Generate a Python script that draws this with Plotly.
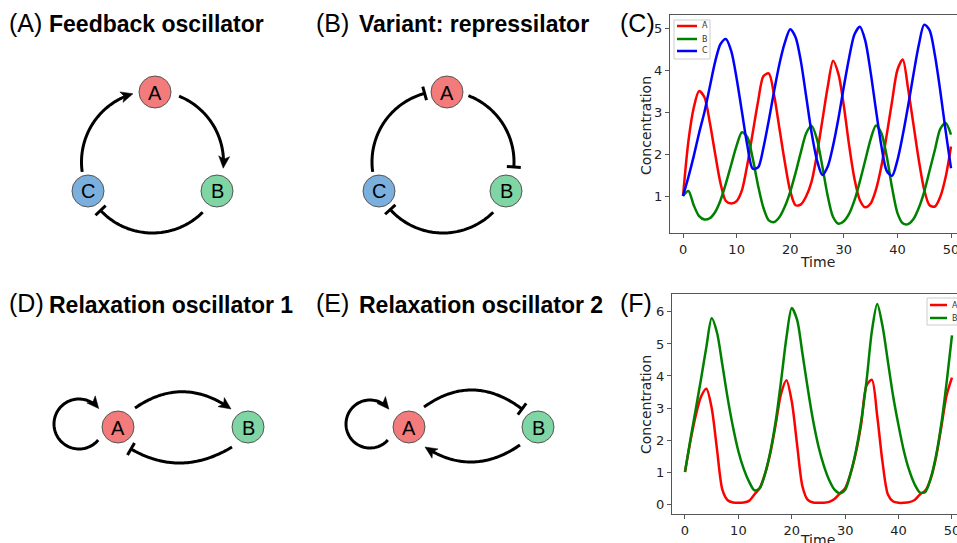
import math
import plotly.graph_objects as go

FIG_W, FIG_H = 957, 543

# ---------------- data ----------------
# Panel C: three-node feedback oscillator, concentration vs time
time_c = list(range(0, 51))
conc_c_A = [1.0, 2.3, 3.1, 3.5, 3.35, 2.75, 2.0, 1.3, 0.88, 0.82,
            0.88, 1.14, 1.75, 2.5, 3.25, 3.85, 3.92, 3.4, 2.6, 1.8,
            1.12, 0.78, 0.8, 1.0, 1.35, 2.0, 2.8, 3.6, 4.22, 3.9,
            3.15, 2.2, 1.4, 0.9, 0.73, 0.82, 1.15, 1.7, 2.45, 3.25,
            4.0, 4.25, 3.55, 2.7, 1.85, 1.15, 0.78, 0.75, 0.98, 1.45,
            2.18]
conc_c_B = [1.0, 1.12, 0.78, 0.52, 0.44, 0.47, 0.62, 0.9, 1.3, 1.75,
            2.2, 2.52, 2.4, 1.9, 1.25, 0.72, 0.42, 0.38, 0.5, 0.75,
            1.1, 1.55, 2.05, 2.5, 2.67, 2.35, 1.7, 1.0, 0.5, 0.34,
            0.4, 0.58, 0.9, 1.35, 1.85, 2.35, 2.68, 2.5, 1.95, 1.2,
            0.6, 0.35, 0.33, 0.45, 0.72, 1.1, 1.6, 2.1, 2.6, 2.74,
            2.46]
conc_c_C = [1.0, 1.45, 1.95, 2.5, 3.0, 3.6, 4.2, 4.62, 4.74, 4.45,
            3.8, 3.0, 2.2, 1.65, 1.68, 2.15, 2.8, 3.5, 4.15, 4.65,
            4.97, 4.78, 4.2, 3.35, 2.5, 1.85, 1.5, 1.7, 2.2, 2.85,
            3.6, 4.3, 4.85, 5.03, 4.7, 3.95, 3.05, 2.2, 1.6, 1.48,
            1.85, 2.45, 3.15, 3.9, 4.6, 5.08, 4.95, 4.35, 3.5, 2.55,
            1.66]

# Panel F: relaxation oscillator, concentration vs time
time_f = list(range(0, 51))
conc_f_A = [1.0, 1.95, 2.75, 3.35, 3.6, 3.0, 1.7, 0.45, 0.12, 0.05,
            0.04, 0.05, 0.1, 0.3, 0.5, 0.95, 1.6, 2.5, 3.45, 3.87,
            3.2, 1.85, 0.55, 0.13, 0.05, 0.04, 0.04, 0.07, 0.16, 0.33,
            0.5, 0.95, 1.6, 2.5, 3.7, 3.88, 2.75, 1.3, 0.3, 0.08,
            0.04, 0.04, 0.06, 0.13, 0.3, 0.42, 0.78, 1.45, 2.4, 3.4,
            3.95]
conc_f_B = [1.0, 2.0, 2.95, 3.9, 4.9, 5.8, 5.35, 4.35, 3.3, 2.4,
            1.65, 1.1, 0.7, 0.43, 0.5, 0.95, 1.65, 2.6, 3.85, 5.2,
            6.12, 5.75, 4.7, 3.6, 2.6, 1.8, 1.2, 0.75, 0.45, 0.34,
            0.45, 0.95, 1.65, 2.6, 3.85, 5.4, 6.25, 5.55, 4.45, 3.35,
            2.45, 1.65, 1.05, 0.62, 0.36, 0.38, 0.8, 1.5, 2.5, 3.8,
            5.27]

species_c = ["A", "B", "C"]
species_f = ["A", "B"]
ticks_c_x = [0, 10, 20, 30, 40, 50]
ticks_c_y = [1, 2, 3, 4, 5]
ticks_f_x = [0, 10, 20, 30, 40, 50]
ticks_f_y = [0, 1, 2, 3, 4, 5, 6]

panel_letters = ["(A)", "(B)", "(C)", "(D)", "(E)", "(F)"]
panel_titles = ["Feedback oscillator", "Variant: repressilator", "",
                "Relaxation oscillator 1", "Relaxation oscillator 2", ""]
axis_x_title = "Time"
axis_y_title = "Concentration"

# ---------------- styles / layout constants ----------------
LINE_COLORS = {"A": "#ff0000", "B": "#008000", "C": "#0000ff"}
NODE_FILL = {"A": "#f47b7b", "B": "#7fd5a4", "C": "#7bb0de"}
AXIS_COL = "#555555"
TEXT_COL = "#222222"
TICK_FONT = dict(family="DejaVu Sans", size=13, color=TEXT_COL)
TITLE_FONT = "Liberation Sans"


def X(px):
    return px / FIG_W


def Y(py):
    return 1 - py / FIG_H


def P(pt):
    return f"{X(pt[0]):.5f},{Y(pt[1]):.5f}"


def poly_path(pts, close=False):
    s = "M " + " L ".join(P(p) for p in pts)
    return s + (" Z" if close else "")


def arc_pts(cx, cy, r, a0, a1, n=80):
    out = []
    for i in range(n + 1):
        a = math.radians(a0 + (a1 - a0) * i / n)
        out.append((cx + r * math.cos(a), cy + r * math.sin(a)))
    return out


def quad_pts(p0, c, p2, n=80):
    out = []
    for i in range(n + 1):
        t = i / n
        x = (1 - t) ** 2 * p0[0] + 2 * (1 - t) * t * c[0] + t ** 2 * p2[0]
        y = (1 - t) ** 2 * p0[1] + 2 * (1 - t) * t * c[1] + t ** 2 * p2[1]
        out.append((x, y))
    return out


def end_dir(pts):
    (x0, y0), (x1, y1) = pts[-2], pts[-1]
    L = math.hypot(x1 - x0, y1 - y0)
    return ((x1 - x0) / L, (y1 - y0) / L)


def trim_end(pts, s):
    pts = list(pts)
    while len(pts) > 2:
        (x0, y0), (x1, y1) = pts[-2], pts[-1]
        seg = math.hypot(x1 - x0, y1 - y0)
        if seg >= s:
            f = (seg - s) / seg
            pts[-1] = (x0 + (x1 - x0) * f, y0 + (y1 - y0) * f)
            return pts
        s -= seg
        pts.pop()
    return pts


shapes = []
annotations = []

EDGE_W = 3.0
HEAD_L, HEAD_W, HEAD_NOTCH = 12.0, 5.5, 3.0
BAR_HALF = 7.0


def add_edge(pts, end):
    tip = pts[-1]
    d = end_dir(pts)
    n = (-d[1], d[0])
    if end == "arrow":
        line_pts = trim_end(pts, HEAD_L - HEAD_NOTCH - 0.5)
        shapes.append(dict(type="path", xref="paper", yref="paper",
                           path=poly_path(line_pts),
                           line=dict(color="black", width=EDGE_W),
                           fillcolor="rgba(0,0,0,0)"))
        back = (tip[0] - HEAD_L * d[0], tip[1] - HEAD_L * d[1])
        head = [tip,
                (back[0] + HEAD_W * n[0], back[1] + HEAD_W * n[1]),
                (tip[0] - (HEAD_L - HEAD_NOTCH) * d[0], tip[1] - (HEAD_L - HEAD_NOTCH) * d[1]),
                (back[0] - HEAD_W * n[0], back[1] - HEAD_W * n[1])]
        shapes.append(dict(type="path", xref="paper", yref="paper",
                           path=poly_path(head, close=True),
                           line=dict(color="black", width=0.5),
                           fillcolor="black"))
    else:
        shapes.append(dict(type="path", xref="paper", yref="paper",
                           path=poly_path(pts),
                           line=dict(color="black", width=EDGE_W),
                           fillcolor="rgba(0,0,0,0)"))
        bar = [(tip[0] + BAR_HALF * n[0], tip[1] + BAR_HALF * n[1]),
               (tip[0] - BAR_HALF * n[0], tip[1] - BAR_HALF * n[1])]
        shapes.append(dict(type="path", xref="paper", yref="paper",
                           path=poly_path(bar),
                           line=dict(color="black", width=EDGE_W),
                           fillcolor="rgba(0,0,0,0)"))


def add_node(name, cx, cy, r=16):
    shapes.append(dict(type="circle", xref="paper", yref="paper",
                       x0=X(cx - r), x1=X(cx + r), y0=Y(cy + r), y1=Y(cy - r),
                       fillcolor=NODE_FILL[name],
                       line=dict(color="#555555", width=1)))
    annotations.append(dict(x=X(cx), y=Y(cy + 0.5), xref="paper", yref="paper",
                            text=name, showarrow=False, xanchor="center", yanchor="middle",
                            font=dict(family=TITLE_FONT, size=20, color="black")))


# ---- diagram geometry (pixel layout) ----
diagrams = {
    "A": dict(nodes={"A": (155, 92), "B": (217, 191), "C": (88, 191)},
              edges=[("arc", (152.5, 162, 71, -68, 5), "arrow"),
                     ("arc", (152.5, 162, 71, 45, 137), "bar"),
                     ("arc", (152.5, 162, 71, 172, 254), "arrow")]),
    "B": dict(nodes={"A": (447, 92), "B": (506, 191), "C": (379, 191)},
              edges=[("arc", (443, 162, 71, -69, 4), "bar"),
                     ("arc", (443, 162, 71, 45, 138), "bar"),
                     ("arc", (443, 162, 71, 172, 255), "bar")]),
    "D": dict(nodes={"A": (118, 427), "B": (248, 427)},
              edges=[("arc", (79, 424, 25, 40, 322), "arrow"),
                     ("quad", ((135, 408), (183, 375), (231, 409)), "arrow"),
                     ("quad", ((232, 447), (181, 478), (131, 449)), "bar")]),
    "E": dict(nodes={"A": (409, 427), "B": (538, 427)},
              edges=[("arc", (370, 424, 24, 42, 322), "arrow"),
                     ("quad", ((424, 407), (473, 372), (522, 409)), "bar"),
                     ("quad", ((520, 445), (472, 478), (425, 447)), "arrow")]),
}

for key, dg in diagrams.items():
    for kind, geo, end in dg["edges"]:
        pts = arc_pts(*geo) if kind == "arc" else quad_pts(*geo)
        add_edge(pts, end)
    for name, (cx, cy) in dg["nodes"].items():
        add_node(name, cx, cy)

# ---- panel letters and titles ----
letter_pos = [(8, 23), (315, 23), (619, 23), (8, 303), (315, 303), (619, 303)]
title_pos = [(48, 24), (358, 24), None, (48, 305), (358, 305), None]
for letter, title, lp, tp in zip(panel_letters, panel_titles, letter_pos, title_pos):
    annotations.append(dict(x=X(lp[0]), y=Y(lp[1]), xref="paper", yref="paper",
                            text=letter, showarrow=False, xanchor="left", yanchor="middle",
                            borderpad=0,
                            font=dict(family=TITLE_FONT, size=25, color="black")))
    if title:
        annotations.append(dict(x=X(tp[0]), y=Y(tp[1]), xref="paper", yref="paper",
                                text=f"<b>{title}</b>", showarrow=False, xanchor="left",
                                yanchor="middle", borderpad=0,
                                font=dict(family=TITLE_FONT, size=23, color="black")))

# ---- axis titles ----
for (cx, cy) in [(646, 126), (646, 405)]:
    annotations.append(dict(x=X(cx), y=Y(cy), xref="paper", yref="paper", text=axis_y_title,
                            textangle=-90, showarrow=False, xanchor="center", yanchor="middle",
                            font=dict(family="DejaVu Sans", size=14, color=TEXT_COL)))
for (cx, cy) in [(817, 262), (817, 540)]:
    annotations.append(dict(x=X(cx), y=Y(cy), xref="paper", yref="paper", text=axis_x_title,
                            showarrow=False, xanchor="center", yanchor="middle",
                            font=dict(family="DejaVu Sans", size=14, color=TEXT_COL)))


# ---- legends (drawn like matplotlib legends) ----
def add_legend(box, names, line_x, rows_y, text_x):
    shapes.append(dict(type="rect", xref="paper", yref="paper",
                       x0=X(box[0]), x1=X(box[2]), y0=Y(box[3]), y1=Y(box[1]),
                       fillcolor="rgba(255,255,255,0.9)", line=dict(color="#cccccc", width=1)))
    for name, ry in zip(names, rows_y):
        shapes.append(dict(type="line", xref="paper", yref="paper",
                           x0=X(line_x[0]), x1=X(line_x[1]), y0=Y(ry), y1=Y(ry),
                           line=dict(color=LINE_COLORS[name], width=2.5)))
        annotations.append(dict(x=X(text_x), y=Y(ry), xref="paper", yref="paper", text=name,
                                showarrow=False, xanchor="left", yanchor="middle", borderpad=0,
                                font=dict(family="DejaVu Sans", size=8, color="#333333")))


add_legend((674, 20, 710, 59), species_c, (677, 697), (26, 39, 51), 701)
add_legend((927, 298, 962, 325), species_f, (930, 947), (305, 318), 951)

# ---------------- traces ----------------
fig = go.Figure()
for name, vals in zip(species_c, [conc_c_A, conc_c_B, conc_c_C]):
    fig.add_trace(go.Scatter(x=time_c, y=vals, name=name, mode="lines",
                             line=dict(color=LINE_COLORS[name], width=2.5, shape="spline", smoothing=0.8),
                             xaxis="x", yaxis="y", showlegend=False, hoverinfo="skip"))
for name, vals in zip(species_f, [conc_f_A, conc_f_B]):
    fig.add_trace(go.Scatter(x=time_f, y=vals, name=name, mode="lines",
                             line=dict(color=LINE_COLORS[name], width=2.5, shape="spline", smoothing=0.8),
                             xaxis="x2", yaxis="y2", showlegend=False, hoverinfo="skip"))

axis_common = dict(showline=True, linecolor=AXIS_COL, linewidth=1.2, ticks="outside",
                   ticklen=4, tickwidth=1.2, tickcolor=AXIS_COL, showgrid=False,
                   zeroline=False, tickfont=TICK_FONT, fixedrange=True, automargin=False,
                   ticklabeloverflow="allow")

fig.update_layout(
    width=FIG_W, height=FIG_H, autosize=False,
    margin=dict(l=0, r=0, t=0, b=0, pad=0),
    paper_bgcolor="white", plot_bgcolor="white",
    showlegend=False, hovermode=False,
    xaxis=dict(domain=[X(670), 1.0], range=[-2.43, 51.12], tickvals=ticks_c_x,
               anchor="y", mirror=True, **axis_common),
    yaxis=dict(domain=[Y(233), Y(15)], range=[0.119, 5.31], tickvals=ticks_c_y,
               anchor="x", **axis_common),
    xaxis2=dict(domain=[X(672), 1.0], range=[-2.43, 50.94], tickvals=ticks_f_x,
                anchor="y2", mirror=True, **axis_common),
    yaxis2=dict(domain=[Y(514), Y(294)], range=[-0.31, 6.56], tickvals=ticks_f_y,
                anchor="x2", **axis_common),
    shapes=shapes,
    annotations=annotations,
)

fig.write_html("out.html", config={"displayModeBar": False},
               post_script="document.body.style.margin='0';document.body.style.padding='0';document.body.style.overflow='hidden';")
